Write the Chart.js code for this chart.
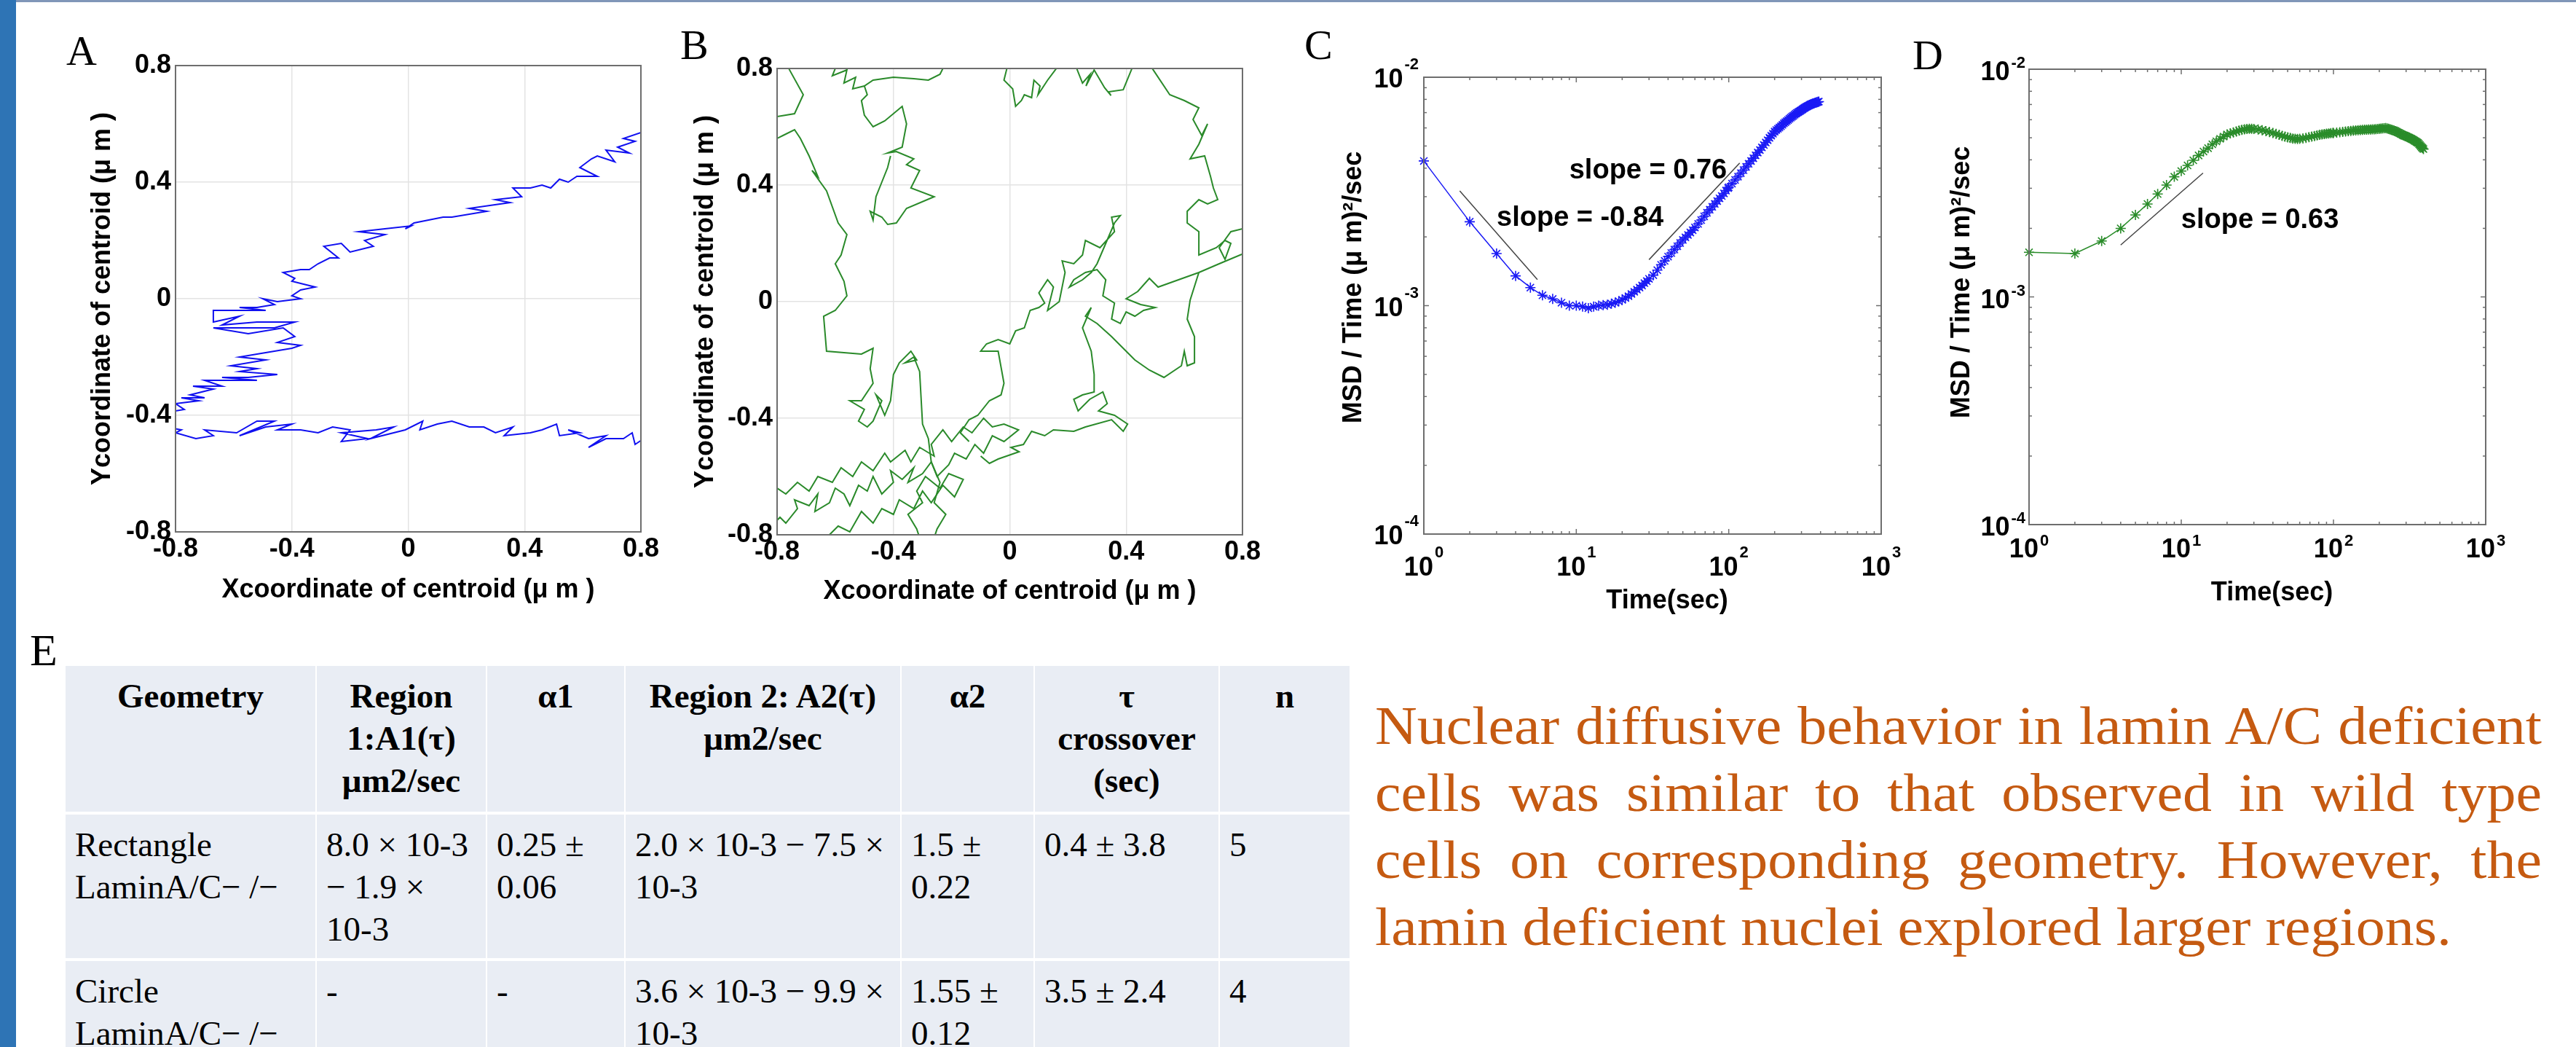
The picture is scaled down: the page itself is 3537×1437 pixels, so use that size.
<!DOCTYPE html>
<html>
<head>
<meta charset="utf-8">
<script src="https://cdn.jsdelivr.net/npm/chart.js@4.4.1/dist/chart.umd.min.js"></script>
<style>
  body { margin: 0; width: 3537px; height: 1437px; overflow: hidden; background: #fff; position: relative; font-family: 'Liberation Serif', 'Times New Roman', serif; }
  .bar { position: absolute; left: 0; top: 0; width: 22px; height: 1437px; background: #2E74B5; }
  .topline { position: absolute; left: 22px; top: 0; right: 0; height: 3px; background: #8096B8; }
  .lbl { position: absolute; font-size: 58px; line-height: 58px; color: #000; }
  canvas { position: absolute; }
  #tbl { position: absolute; left: 88px; top: 910px; border-collapse: collapse; table-layout: fixed; width: 1765px; }
  #tbl td, #tbl th { background: #E9EDF4; border-style: solid; border-color: #fff; border-width: 4px 2px; vertical-align: top;
    padding: 12px 13px 0 13px; font-size: 47px; line-height: 58px; white-space: nowrap; color: #000; overflow: hidden; }
  #tbl th { font-weight: bold; text-align: center; }
  #tbl td { font-weight: normal; text-align: left; }
  #para { position: absolute; left: 1888px; top: 950px; width: 1602px; font-size: 80px; line-height: 99px; color: #C55A11;
    transform: scaleY(0.93); transform-origin: 0 0; white-space: nowrap; }
  #para .j { text-align: justify; text-align-last: justify; }
</style>
</head>
<body>
<div class="bar"></div>
<div class="topline"></div>

<div class="lbl" style="left:91px;top:41px">A</div>
<div class="lbl" style="left:934px;top:33px">B</div>
<div class="lbl" style="left:1791px;top:33px">C</div>
<div class="lbl" style="left:2626px;top:47px">D</div>
<div class="lbl" style="left:41px;top:861px;font-size:62px;line-height:62px">E</div>

<canvas id="chartA" width="820" height="790" style="left:100px;top:60px"></canvas>
<canvas id="chartB" width="811" height="790" style="left:935px;top:64px"></canvas>
<canvas id="chartC" width="840" height="820" style="left:1790px;top:40px"></canvas>
<canvas id="chartD" width="830" height="800" style="left:2640px;top:40px"></canvas>

<table id="tbl">
  <colgroup>
    <col style="width:345px"><col style="width:234px"><col style="width:190px"><col style="width:379px">
    <col style="width:183px"><col style="width:254px"><col style="width:180px">
  </colgroup>
  <tr style="height:204px">
    <th>Geometry</th><th>Region<br>1:A1(τ)<br>μm2/sec</th><th>α1</th><th>Region 2: A2(τ)<br>μm2/sec</th>
    <th>α2</th><th>τ<br>crossover<br>(sec)</th><th>n</th>
  </tr>
  <tr style="height:201px">
    <td>Rectangle<br>LaminA/C− /−</td><td>8.0 × 10-3<br>− 1.9 ×<br>10-3</td><td>0.25 ±<br>0.06</td>
    <td>2.0 × 10-3 − 7.5 ×<br>10-3</td><td>1.5 ±<br>0.22</td><td>0.4 ± 3.8</td><td>5</td>
  </tr>
  <tr style="height:200px">
    <td>Circle<br>LaminA/C− /−</td><td>-</td><td>-</td>
    <td>3.6 × 10-3 − 9.9 ×<br>10-3</td><td>1.55 ±<br>0.12</td><td>3.5 ± 2.4</td><td>4</td>
  </tr>
</table>

<div id="para">
  <div class="j">Nuclear diffusive behavior in lamin A/C deficient</div>
  <div class="j">cells was similar to that observed in wild type</div>
  <div class="j">cells on corresponding geometry. However, the</div>
  <div>lamin deficient nuclei explored larger regions.</div>
</div>

<script>
// ---- panel A: centroid track (x, y in µm) ----
const aUpper = [[0.80,0.57],[0.74,0.55],[0.78,0.54],[0.72,0.52],[0.76,0.50],[0.68,0.51],[0.71,0.47],[0.65,0.49],[0.63,0.48],[0.59,0.45],
  [0.65,0.42],[0.58,0.42],[0.55,0.40],[0.52,0.41],[0.49,0.38],[0.46,0.39],[0.42,0.38],[0.36,0.38],[0.39,0.35],[0.30,0.34],
  [0.35,0.33],[0.21,0.31],[0.27,0.30],[0.15,0.28],[0.12,0.28],[0.07,0.27],[0.02,0.26],[-0.01,0.24],[0.01,0.25],[-0.08,0.24],
  [-0.17,0.23],[-0.08,0.22],[-0.15,0.20],[-0.12,0.18],[-0.20,0.16],[-0.23,0.19],[-0.29,0.18],[-0.24,0.14],[-0.27,0.14],[-0.31,0.12],
  [-0.34,0.10],[-0.37,0.10],[-0.43,0.09],[-0.39,0.07],[-0.40,0.06],[-0.32,0.04],[-0.37,0.03],[-0.40,0.01],[-0.37,0.00],[-0.45,-0.01],
  [-0.50,0.00],[-0.46,-0.02],[-0.52,-0.03],[-0.58,-0.03],[-0.49,-0.04],[-0.67,-0.04],[-0.67,-0.08],[-0.58,-0.06],[-0.64,-0.09],[-0.52,-0.08],
  [-0.39,-0.08],[-0.46,-0.10],[-0.67,-0.10],[-0.55,-0.12],[-0.43,-0.10],[-0.39,-0.13],[-0.45,-0.15],[-0.37,-0.16],[-0.40,-0.17],[-0.46,-0.18],
  [-0.52,-0.19],[-0.58,-0.20],[-0.49,-0.21],[-0.55,-0.22],[-0.61,-0.23],[-0.52,-0.24],[-0.58,-0.25],[-0.45,-0.26],[-0.55,-0.27],[-0.64,-0.27],
  [-0.52,-0.28],[-0.70,-0.28],[-0.64,-0.30],[-0.74,-0.30],[-0.67,-0.31],[-0.75,-0.33],[-0.70,-0.34],[-0.78,-0.34],[-0.72,-0.35],[-0.80,-0.36],
  [-0.77,-0.38],[-0.83,-0.39]];
const aLower = [[-0.83,-0.44],[-0.78,-0.45],[-0.80,-0.46],[-0.73,-0.48],[-0.67,-0.47],[-0.70,-0.45],[-0.59,-0.46],[-0.52,-0.42],[-0.46,-0.42],[-0.58,-0.47],
  [-0.49,-0.44],[-0.40,-0.43],[-0.45,-0.45],[-0.37,-0.45],[-0.31,-0.46],[-0.26,-0.44],[-0.20,-0.45],[-0.23,-0.49],[-0.14,-0.48],[-0.23,-0.46],
  [-0.11,-0.45],[-0.05,-0.44],[-0.13,-0.48],[-0.01,-0.45],[0.05,-0.42],[0.04,-0.45],[0.10,-0.43],[0.15,-0.42],[0.21,-0.44],[0.26,-0.44],
  [0.30,-0.46],[0.36,-0.44],[0.33,-0.47],[0.42,-0.46],[0.46,-0.45],[0.51,-0.43],[0.52,-0.47],[0.59,-0.46],[0.55,-0.45],[0.62,-0.48],
  [0.68,-0.47],[0.62,-0.51],[0.68,-0.48],[0.74,-0.48],[0.77,-0.46],[0.78,-0.50],[0.81,-0.48]];

// ---- panel B: centroid track pieces ----
const bBand = [[-0.82,-0.77],[-0.79,-0.74],[-0.77,-0.76],[-0.73,-0.71],[-0.74,-0.68],[-0.69,-0.70],[-0.66,-0.66],[-0.67,-0.72],[-0.62,-0.69],[-0.60,-0.64],
  [-0.57,-0.66],[-0.55,-0.70],[-0.52,-0.63],[-0.49,-0.65],[-0.47,-0.60],[-0.44,-0.66],[-0.40,-0.62],[-0.41,-0.58],[-0.37,-0.61],[-0.33,-0.57],
  [-0.35,-0.62],[-0.30,-0.59],[-0.27,-0.55],[-0.25,-0.60],[-0.21,-0.56],[-0.19,-0.52],[-0.15,-0.54],[-0.12,-0.49],[-0.09,-0.52],[-0.06,-0.46],
  [-0.02,-0.48],[0.03,-0.44],[-0.02,-0.42],[-0.06,-0.43],[-0.09,-0.40],[-0.13,-0.45],[-0.16,-0.43],[-0.20,-0.48],[-0.23,-0.44],[-0.27,-0.49],
  [-0.26,-0.53],[-0.31,-0.50],[-0.34,-0.55],[-0.36,-0.51],[-0.41,-0.55],[-0.43,-0.52],[-0.47,-0.58],[-0.51,-0.55],[-0.54,-0.60],[-0.58,-0.57],
  [-0.61,-0.62],[-0.66,-0.60],[-0.69,-0.65],[-0.73,-0.62],[-0.77,-0.66],[-0.80,-0.64],[-0.84,-0.67],[-0.84,-0.84],[-0.62,-0.84],[-0.62,-0.80],
  [-0.59,-0.77],[-0.55,-0.79],[-0.51,-0.72],[-0.47,-0.76],[-0.44,-0.71],[-0.40,-0.73],[-0.38,-0.68],[-0.33,-0.71],[-0.30,-0.65],[-0.27,-0.69],
  [-0.23,-0.63],[-0.19,-0.67],[-0.16,-0.61],[-0.21,-0.59],[-0.24,-0.64],[-0.29,-0.60],[-0.32,-0.65],[-0.30,-0.69],[-0.35,-0.73],[-0.32,-0.78],
  [-0.30,-0.84]];
const bLeftLoop = [[-0.27,-0.84],[-0.25,-0.78],[-0.22,-0.73],[-0.26,-0.69],[-0.24,-0.62],[-0.27,-0.55],[-0.28,-0.47],[-0.30,-0.42],[-0.31,-0.24],[-0.33,-0.19],
  [-0.36,-0.21],[-0.32,-0.20],[-0.34,-0.17],[-0.38,-0.21],[-0.40,-0.25],[-0.41,-0.34],[-0.43,-0.39],[-0.46,-0.32],[-0.44,-0.34],[-0.47,-0.41],
  [-0.49,-0.43],[-0.52,-0.41],[-0.50,-0.37],[-0.55,-0.34],[-0.51,-0.34],[-0.47,-0.28],[-0.48,-0.23],[-0.47,-0.16],[-0.51,-0.18],[-0.63,-0.17],
  [-0.64,-0.05],[-0.60,-0.03],[-0.56,0.02],[-0.57,0.07],[-0.60,0.13],[-0.58,0.16],[-0.56,0.23],[-0.59,0.27],[-0.63,0.38],[-0.68,0.45],
  [-0.66,0.43],[-0.69,0.50],[-0.72,0.56],[-0.74,0.59],[-0.78,0.57],[-0.80,0.56],[-0.84,0.58],[-0.84,0.64],[-0.80,0.635],[-0.74,0.645],
  [-0.71,0.71],[-0.76,0.80],[-0.77,0.84]];
const bTop = [[-0.60,0.84],[-0.60,0.80],[-0.61,0.775],[-0.56,0.795],[-0.57,0.75],[-0.53,0.77],[-0.54,0.73],[-0.50,0.74],[-0.47,0.76],[-0.40,0.77],
  [-0.33,0.765],[-0.28,0.76],[-0.24,0.78],[-0.21,0.84]];
const bTopLoop = [[-0.50,0.74],[-0.49,0.71],[-0.51,0.69],[-0.50,0.64],[-0.47,0.60],[-0.43,0.62],[-0.37,0.67],[-0.355,0.61],[-0.37,0.53],[-0.42,0.51],
  [-0.39,0.515],[-0.33,0.49],[-0.355,0.47],[-0.31,0.45],[-0.34,0.39],[-0.26,0.36],[-0.355,0.32],[-0.39,0.27],[-0.42,0.265],[-0.44,0.29],
  [-0.48,0.31],[-0.47,0.28],[-0.46,0.36],[-0.44,0.41],[-0.42,0.46],[-0.41,0.50]];
const bMid = [[-0.14,-0.48],[-0.17,-0.45],[-0.14,-0.405],[-0.11,-0.39],[-0.07,-0.34],[-0.03,-0.32],[-0.02,-0.28],[-0.04,-0.17],[-0.10,-0.17],[-0.08,-0.145],
  [-0.04,-0.13],[0.00,-0.145],[0.02,-0.10],[0.05,-0.09],[0.07,-0.03],[0.10,-0.02],[0.12,-0.005],[0.10,0.03],[0.13,0.075],[0.15,0.05],
  [0.13,-0.03],[0.17,0.00],[0.19,0.10],[0.18,0.14],[0.22,0.13],[0.25,0.16],[0.26,0.21],[0.31,0.185],[0.36,0.24],[0.35,0.29],
  [0.38,0.295],[0.36,0.27],[0.33,0.20],[0.30,0.13],[0.28,0.10],[0.25,0.075],[0.205,0.05],[0.22,0.075],[0.26,0.10],[0.30,0.11],
  [0.33,0.075],[0.32,0.02],[0.36,-0.005],[0.35,-0.06],[0.38,-0.075],[0.40,-0.035],[0.43,-0.05],[0.46,-0.03],[0.50,-0.02],[0.45,-0.01],
  [0.40,0.01],[0.44,0.035],[0.48,0.08],[0.51,0.05],[0.58,0.075],[0.65,0.10],[0.72,0.13],[0.84,0.18]];
const bRightLoop = [[0.65,0.10],[0.62,0.005],[0.61,-0.06],[0.635,-0.12],[0.635,-0.21],[0.61,-0.22],[0.60,-0.17],[0.59,-0.22],[0.53,-0.26],[0.48,-0.235],
  [0.43,-0.20],[0.39,-0.16],[0.35,-0.12],[0.30,-0.075],[0.26,-0.05],[0.28,-0.02],[0.25,-0.09],[0.28,-0.17],[0.29,-0.25],[0.29,-0.31],
  [0.25,-0.32],[0.22,-0.335],[0.235,-0.375],[0.275,-0.335],[0.32,-0.31],[0.335,-0.35],[0.305,-0.375],[0.36,-0.39],[0.405,-0.42],[0.39,-0.445],
  [0.35,-0.405],[0.26,-0.43],[0.22,-0.445],[0.15,-0.44],[0.12,-0.46],[0.075,-0.445],[0.047,-0.49],[0.004,-0.50],[0.032,-0.515],[-0.04,-0.54],
  [-0.07,-0.555],[-0.10,-0.53]];
const bTopMid = [[-0.01,0.84],[-0.01,0.80],[-0.02,0.76],[0.01,0.73],[0.02,0.67],[0.04,0.69],[0.05,0.71],[0.075,0.70],[0.083,0.76],[0.104,0.74],
  [0.097,0.71],[0.13,0.76],[0.16,0.80],[0.17,0.84]];
const bTopRight = [[0.22,0.84],[0.23,0.80],[0.25,0.75],[0.276,0.78],[0.262,0.74],[0.29,0.795],[0.326,0.734],[0.348,0.707],[0.34,0.72],[0.39,0.727],
  [0.42,0.80],[0.43,0.84]];
const bRightEdge = [[0.48,0.84],[0.49,0.80],[0.55,0.71],[0.60,0.69],[0.65,0.665],[0.63,0.625],[0.66,0.57],[0.68,0.61],[0.65,0.54],[0.62,0.49],
  [0.67,0.50],[0.69,0.43],[0.70,0.39],[0.715,0.35],[0.68,0.335],[0.65,0.35],[0.61,0.31],[0.61,0.27],[0.65,0.24],[0.65,0.16],
  [0.71,0.185],[0.74,0.21],[0.76,0.20],[0.74,0.145],[0.72,0.185],[0.76,0.24],[0.84,0.26]];

// ---- panels C / D: MSD/time vs lag time (sec) ----
const lagTime = [1,2,3,4,5,6,7,8,9,10,11,12,13,14,15,16,17,18,19,20,21,22,23,24,25,26,27,28,29,30,
  32,34,36,38,40,42,44,46,48,50,52,54,56,58,60,
  63,66,69,72,75,78,81,84,87,90,93,96,99,
  100,105,110,115,120,125,130,135,140,145,150,155,160,165,170,175,180,185,190,195,200,
  205,210,215,220,225,230,235,240,245,250,255,260,265,270,275,280,285,290,295,300,
  305,310,315,320,325,330,335,340,345,350,355,360,365,370,375,380,385,390];
// values in units of 1e-3 (µm)^2/sec
const msdC = [4.30,2.33,1.69,1.35,1.20,1.11,1.07,1.03,1.00,1.00,0.99,0.975,0.99,1.00,1.005,1.01,1.02,1.03,1.045,1.06,1.08,1.10,1.125,1.15,1.175,1.20,1.225,1.255,1.28,1.31,
  1.36,1.43,1.51,1.57,1.64,1.70,1.76,1.82,1.88,1.94,1.99,2.04,2.09,2.14,2.20,
  2.28,2.37,2.46,2.55,2.63,2.71,2.79,2.87,2.95,3.02,3.10,3.19,3.27,
  3.30,3.42,3.55,3.67,3.80,3.92,4.05,4.18,4.30,4.42,4.55,4.68,4.80,4.93,5.05,5.18,5.30,5.43,5.55,5.66,5.78,
  5.87,5.95,6.02,6.10,6.19,6.28,6.35,6.42,6.50,6.58,6.65,6.72,6.78,6.85,6.92,6.98,7.03,7.08,7.13,7.18,
  7.24,7.30,7.35,7.40,7.44,7.48,7.52,7.56,7.60,7.63,7.66,7.68,7.71,7.73,7.76,7.78,7.80,7.82];
const msdD = [1.57,1.55,1.76,2.00,2.29,2.56,2.83,3.10,3.37,3.57,3.78,3.98,4.18,4.35,4.50,4.68,4.82,4.95,5.06,5.17,5.23,5.28,5.33,5.38,5.42,5.45,5.47,5.48,5.48,5.47,
  5.44,5.40,5.35,5.30,5.25,5.20,5.15,5.10,5.06,5.02,4.99,4.96,4.95,4.94,4.95,
  4.97,4.99,5.03,5.06,5.09,5.12,5.15,5.17,5.19,5.21,5.22,5.24,5.25,
  5.25,5.27,5.29,5.31,5.33,5.35,5.36,5.38,5.39,5.40,5.41,5.42,5.43,5.43,5.44,5.44,5.45,5.45,5.46,5.47,5.48,
  5.49,5.50,5.51,5.52,5.50,5.48,5.45,5.42,5.40,5.38,5.35,5.32,5.28,5.25,5.21,5.18,5.14,5.11,5.10,5.08,
  5.05,5.02,5.00,4.97,4.95,4.92,4.89,4.86,4.83,4.80,4.77,4.74,4.69,4.64,4.59,4.54,4.50,4.46];

// fitted slope guides (end points)
const slopeC1T = [1.72, 5.56],  slopeC1V = [3.18e-3, 1.30e-3];
const slopeC2T = [30.0, 118],   slopeC2V = [1.59e-3, 4.21e-3];
const slopeDT  = [4.0, 13.9],   slopeDV  = [1.69e-3, 3.50e-3];
const notesC = [{text: 'slope = 0.76', t: 29.6, v: 3.88e-3}, {text: 'slope = -0.84', t: 10.6, v: 2.42e-3}];
const notesD = [{text: 'slope = 0.63', t: 32.9, v: 2.16e-3}];

// tick labels
const linTicks = [-0.8, -0.4, 0, 0.4, 0.8];
const xDecades = [1, 10, 100, 1000], xExp = ['0', '1', '2', '3'];
const yDecades = [1e-4, 1e-3, 1e-2], yExp = ['-4', '-3', '-2'];

const SANS = "'Liberation Sans', Arial, Helvetica, sans-serif";
const tickFont = {family: SANS, weight: 'bold', size: 36};
const titleFont = {family: SANS, weight: 'bold', size: 36};
const logTitleFont = {family: SANS, weight: 'bold', size: 36};

const framePlugin = {
  id: 'frame',
  afterDatasetsDraw(chart) {
    const {ctx, chartArea: a} = chart;
    ctx.save();
    ctx.strokeStyle = '#6e6e6e';
    ctx.lineWidth = 2;
    ctx.strokeRect(a.left, a.top, a.right - a.left, a.bottom - a.top);
    ctx.restore();
  }
};

function trajChart(id, segs, color, cfg) {
  new Chart(document.getElementById(id), {
    type: 'scatter',
    data: {
      datasets: segs.map(s => ({
        data: s.map(p => ({x: p[0], y: p[1]})),
        showLine: true, borderColor: color, borderWidth: 2, pointRadius: 0, tension: 0
      }))
    },
    options: {
      responsive: false, animation: false, events: [],
      layout: {padding: {left: 0, top: 30, right: cfg.right, bottom: 0}},
      plugins: {legend: {display: false}, tooltip: {enabled: false}},
      scales: {
        x: {
          min: -0.8, max: 0.8,
          afterBuildTicks: s => { s.ticks = linTicks.map(v => ({value: v})); },
          ticks: {font: tickFont, color: '#000', padding: 2, maxRotation: 0, callback: v => String(Number(v.toFixed(1)))},
          grid: {color: '#e3e3e3', lineWidth: 1.5, drawTicks: false},
          border: {display: false},
          title: {display: true, text: 'Xcoordinate of centroid (\u03bc m )', font: titleFont, color: '#000', padding: {top: 0, bottom: cfg.xTitlePad}},
          afterFit: s => { s.height = 120; }
        },
        y: {
          min: -0.8, max: 0.8,
          afterBuildTicks: s => { s.ticks = linTicks.map(v => ({value: v})); },
          ticks: {font: tickFont, color: '#000', padding: 6, callback: v => String(Number(v.toFixed(1)))},
          grid: {color: '#e3e3e3', lineWidth: 1.5, drawTicks: false},
          border: {display: false},
          title: {display: true, text: 'Ycoordinate of centroid (\u03bc m )', font: titleFont, color: '#000', padding: {top: cfg.yTitlePad, bottom: 0}},
          afterFit: s => { s.width = cfg.yWidth; }
        }
      }
    },
    plugins: [framePlugin]
  });
}

trajChart('chartA', [aUpper, aLower], '#1010f0', {right: 40, yWidth: 141, xTitlePad: 18, yTitlePad: 19});
trajChart('chartB', [bBand, bLeftLoop, bTop, bTopLoop, bMid, bRightLoop, bTopMid, bTopRight, bRightEdge], '#2a8a2a',
  {right: 40, yWidth: 132, xTitlePad: 20, yTitlePad: 12});

function makeLogDecor(cfg) {
  return {
    id: 'logDecor',
    afterDatasetsDraw(chart) {
      const {ctx, chartArea: a, scales: {x, y}} = chart;
      ctx.save();
      ctx.strokeStyle = '#6e6e6e';
      ctx.lineWidth = 1.5;
      const seg = (x1, y1, x2, y2) => { ctx.beginPath(); ctx.moveTo(x1, y1); ctx.lineTo(x2, y2); ctx.stroke(); };
      xDecades.slice(0, -1).forEach(d => {
        for (let m = 1; m < 10; m++) {
          const px = x.getPixelForValue(d * m), len = m === 1 ? 7 : 4;
          seg(px, a.bottom, px, a.bottom - len); seg(px, a.top, px, a.top + len);
        }
      });
      yDecades.slice(0, -1).forEach(d => {
        for (let m = 1; m < 10; m++) {
          const py = y.getPixelForValue(d * m), len = m === 1 ? 7 : 4;
          seg(a.left, py, a.left + len, py); seg(a.right, py, a.right - len, py);
        }
      });
      ctx.lineWidth = 2;
      ctx.strokeRect(a.left, a.top, a.right - a.left, a.bottom - a.top);

      // power-of-ten labels
      const big = 'bold 36px ' + SANS, small = 'bold 22px ' + SANS;
      ctx.fillStyle = '#000';
      ctx.textAlign = 'left';
      ctx.textBaseline = 'alphabetic';
      const width = e => { ctx.font = big; const w = ctx.measureText('10').width; ctx.font = small; return w + 2 + ctx.measureText(e).width; };
      const pow = (e, left, base, raise) => {
        ctx.font = big; ctx.fillText('10', left, base);
        const w = ctx.measureText('10').width;
        ctx.font = small; ctx.fillText(e, left + w + 2, base - raise);
      };
      xDecades.forEach((d, i) => {
        const px = x.getPixelForValue(d), w = width(xExp[i]);
        pow(xExp[i], px - w / 2, a.bottom + cfg.xBase, cfg.xRaise);
      });
      yDecades.forEach((d, i) => {
        const py = y.getPixelForValue(d), w = width(yExp[i]);
        pow(yExp[i], a.left - cfg.yGap - w, py + cfg.yBase, cfg.yRaise);
      });

      ctx.font = 'bold 38px ' + SANS;
      ctx.textAlign = 'center';
      ctx.textBaseline = 'middle';
      cfg.notes.forEach(n => ctx.fillText(n.text, x.getPixelForValue(n.t), y.getPixelForValue(n.v)));
      ctx.restore();
    }
  };
}

function msdChart(id, values, color, guides, cfg) {
  const guideSets = guides.map(g => ({
    data: g[0].map((t, i) => ({x: t, y: g[1][i]})),
    showLine: true, borderColor: '#444', borderWidth: 1.5, pointRadius: 0
  }));
  new Chart(document.getElementById(id), {
    type: 'scatter',
    data: {
      datasets: [{
        data: lagTime.map((t, i) => ({x: t, y: values[i] * 1e-3})),
        showLine: true, borderColor: color, backgroundColor: color, borderWidth: 1.5,
        pointStyle: 'star', pointRadius: 7, pointBorderWidth: 1.6, pointBorderColor: color, clip: false
      }, ...guideSets]
    },
    options: {
      responsive: false, animation: false, events: [],
      layout: {padding: {left: 0, top: cfg.top, right: cfg.right, bottom: 0}},
      plugins: {legend: {display: false}, tooltip: {enabled: false}},
      scales: {
        x: {
          type: 'logarithmic', min: 1, max: 1000,
          ticks: {display: false}, grid: {display: false}, border: {display: false},
          title: {display: true, text: '    Time(sec)', font: logTitleFont, color: '#000', padding: {top: 0, bottom: cfg.xTitlePad}},
          afterFit: s => { s.height = cfg.xHeight; }
        },
        y: {
          type: 'logarithmic', min: 1e-4, max: 1e-2,
          ticks: {display: false}, grid: {display: false}, border: {display: false},
          title: {display: true, text: cfg.yLead + 'MSD / Time (\u03bc m)\u00b2/sec', font: logTitleFont, color: '#000', padding: {top: cfg.yTitlePad, bottom: 0}},
          afterFit: s => { s.width = cfg.yWidth; }
        }
      }
    },
    plugins: [makeLogDecor(cfg)]
  });
}

msdChart('chartC', msdC, '#1a1af5', [[slopeC1T, slopeC1V], [slopeC2T, slopeC2V]],
  {top: 66, right: 47, xHeight: 127, yWidth: 165, xTitlePad: 13, yTitlePad: 47, yLead: '     ',
   xBase: 57, xRaise: 25, yBase: 14, yRaise: 25, yGap: 7, notes: notesC});
msdChart('chartD', msdD, '#2a8c2a', [[slopeDT, slopeDV]],
  {top: 55, right: 57, xHeight: 120, yWidth: 146, xTitlePad: 4, yTitlePad: 32, yLead: '    ',
   xBase: 45, xRaise: 16, yBase: 15, yRaise: 17, yGap: 5, notes: notesD});
</script>
</body>
</html>
